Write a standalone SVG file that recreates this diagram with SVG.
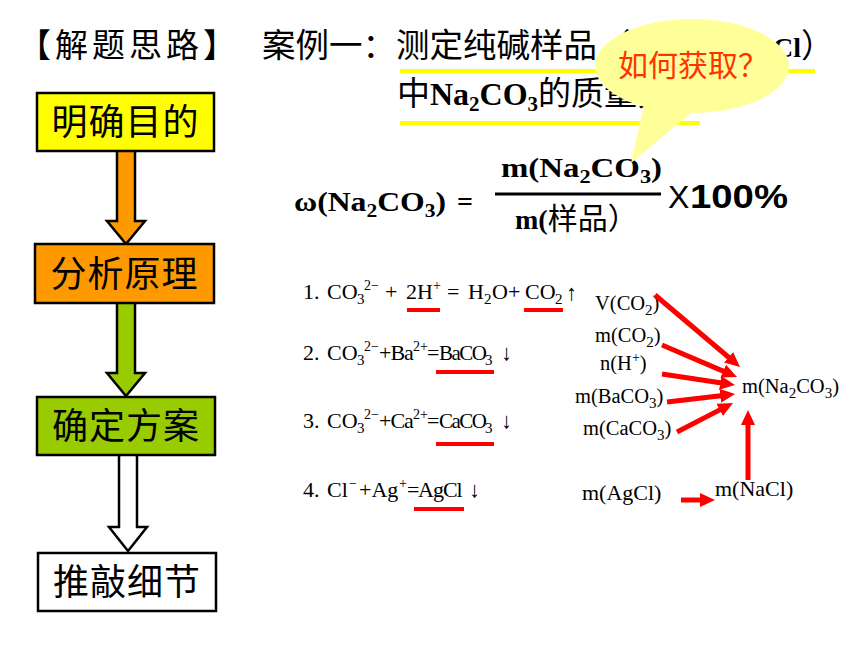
<svg xmlns="http://www.w3.org/2000/svg" width="860" height="645" viewBox="0 0 860 645">
<defs>
<style>
.cjk{font-family:"Noto Sans CJK SC","Noto Sans",sans-serif;fill:#000}
.box{stroke:#000;stroke-width:2.5}
.blk{stroke:#000;stroke-width:2.5;stroke-linejoin:miter}
.btxt{font-family:"Noto Sans CJK SC",sans-serif;font-size:36px;text-anchor:middle;fill:#000;letter-spacing:1px}
.eq{font-family:"Liberation Serif","DejaVu Serif","Noto Sans CJK SC",serif;font-size:22px;fill:#000}
.lb{font-family:"Liberation Serif","DejaVu Serif",serif;font-size:20.5px;fill:#000}
.sub{font-size:15px}
.sup{font-size:14px}
.nar{font-size:21px;letter-spacing:-1.5px}
.fx{font-family:"Liberation Serif","Noto Sans CJK SC",serif;font-weight:bold;font-size:28px;fill:#000}
.fsub{font-size:19px}
.ul{stroke:#FF0000;stroke-width:4}
.yl{stroke:#FFFF00;stroke-width:4}
.ra{stroke:#FF0000;stroke-width:5;fill:none;marker-end:url(#rh)}
</style>
<marker id="rh" markerUnits="userSpaceOnUse" markerWidth="15" markerHeight="14" refX="5" refY="7" orient="auto"><path d="M0,0 L15,7 L0,14 z" fill="#FF0000"/></marker>
</defs>
<rect width="860" height="645" fill="#FFFFFF"/>

<g id="title">
<text class="cjk" x="18" y="57" font-size="33" letter-spacing="4">【解题思路】</text>
<text class="cjk" x="262" y="57" font-size="33.5">案例一：测定纯碱样品（</text>
<text x="773" y="57" font-family="Liberation Serif,serif" font-weight="bold" font-size="28">Cl<tspan class="cjk" font-weight="normal" font-size="33">）</tspan></text>
<text class="cjk" x="397" y="105" font-size="33">中<tspan font-family="Liberation Serif,serif" font-weight="bold" font-size="32">Na<tspan font-size="21" dy="6">2</tspan><tspan dy="-6">CO</tspan><tspan font-size="21" dy="6">3</tspan></tspan><tspan dy="-6">的质量分数</tspan></text>
<line class="yl" x1="400" y1="71" x2="815" y2="71"/>
<line class="yl" x1="400" y1="123" x2="700" y2="123"/>
</g>

<g id="formula">
<text class="fx" x="294" y="211" textLength="152" lengthAdjust="spacingAndGlyphs">ω(Na<tspan class="fsub" dy="6">2</tspan><tspan dy="-6">CO</tspan><tspan class="fsub" dy="6">3</tspan><tspan dy="-6">)</tspan></text>
<text class="fx" x="457" y="211">=</text>
<text class="fx" x="501" y="177" textLength="161" lengthAdjust="spacingAndGlyphs">m(Na<tspan class="fsub" dy="6">2</tspan><tspan dy="-6">CO</tspan><tspan class="fsub" dy="6">3</tspan><tspan dy="-6">)</tspan></text>
<line x1="495" y1="194" x2="661" y2="194" stroke="#000" stroke-width="3"/>
<text class="fx" x="515" y="229">m(<tspan font-family="Noto Sans CJK SC,sans-serif" font-weight="normal" font-size="30">样品）</tspan></text>
<text x="668" y="208" font-family="Liberation Sans,sans-serif" font-size="32">X</text>
<text x="690" y="208" font-family="Liberation Sans,sans-serif" font-weight="bold" font-size="34" textLength="98" lengthAdjust="spacingAndGlyphs">100%</text>
</g>

<g id="bubble">
<ellipse cx="692" cy="66" rx="97" ry="47" fill="#FFFF99"/>
<polygon points="645,100 702,104 631,163" fill="#FFFF99"/>
<text x="618" y="76" font-family="Noto Sans CJK SC,sans-serif" font-size="30" fill="#FF3300">如何获取？</text>
</g>

<g id="equations">
<text class="eq" y="299"><tspan x="303">1. </tspan><tspan x="327">CO</tspan><tspan class="sub" x="357" y="304">3</tspan><tspan class="sup" x="364" y="290">2− </tspan><tspan x="385" y="299">+ </tspan><tspan x="406">2H</tspan><tspan class="sup" x="433" y="290">+ </tspan><tspan x="447" y="299">= </tspan><tspan x="468">H</tspan><tspan class="sub" x="484" y="304">2</tspan><tspan x="492" y="299">O+ </tspan><tspan x="525">CO</tspan><tspan class="sub" x="555" y="304">2</tspan><tspan x="566" y="300">↑</tspan></text>
<text class="eq" y="360"><tspan x="303">2. </tspan><tspan x="327">CO</tspan><tspan class="sub" x="357" y="365">3</tspan><tspan class="sup" x="364" y="351">2−</tspan><tspan x="379" y="360" letter-spacing="-1">+Ba</tspan><tspan class="sup" x="413" y="351">2+</tspan><tspan x="427" y="360">=</tspan><tspan class="nar" x="439">BaCO</tspan><tspan class="sub" x="485" y="365">3</tspan><tspan x="501" y="360">↓</tspan></text>
<text class="eq" y="428"><tspan x="303">3. </tspan><tspan x="327">CO</tspan><tspan class="sub" x="357" y="433">3</tspan><tspan class="sup" x="364" y="419">2−</tspan><tspan x="379" y="428" letter-spacing="-1">+Ca</tspan><tspan class="sup" x="413" y="419">2+</tspan><tspan x="427" y="428">=</tspan><tspan class="nar" x="439">CaCO</tspan><tspan class="sub" x="485" y="433">3</tspan><tspan x="501" y="428">↓</tspan></text>
<text class="eq" y="497"><tspan x="303">4. </tspan><tspan x="327">Cl</tspan><tspan class="sup" x="349" y="488">−</tspan><tspan x="359" y="497">+Ag</tspan><tspan class="sup" x="399" y="488">+</tspan><tspan x="407" y="497">=</tspan><tspan x="418" letter-spacing="-1">AgCl</tspan><tspan x="469">↓</tspan></text>
<line class="ul" x1="407" y1="310" x2="440" y2="310"/>
<line class="ul" x1="524" y1="310" x2="563" y2="310"/>
<line class="ul" x1="436" y1="372" x2="494" y2="372"/>
<line class="ul" x1="436" y1="444" x2="494" y2="444"/>
<line class="ul" x1="414" y1="509" x2="464" y2="509"/>
</g>

<g id="n-vco2"><text class="lb" x="595" y="310">V(CO<tspan class="sub" dy="5">2</tspan><tspan dy="-5">)</tspan></text></g>
<g id="n-mco2"><text class="lb" x="595" y="342">m(CO<tspan class="sub" dy="5">2</tspan><tspan dy="-5">)</tspan></text></g>
<g id="n-nh"><text class="lb" x="600" y="370">n(H<tspan class="sup" dy="-8">+</tspan><tspan dy="8">)</tspan></text></g>
<g id="n-mbaco3"><text class="lb" x="575" y="403">m(BaCO<tspan class="sub" dy="5">3</tspan><tspan dy="-5">)</tspan></text></g>
<g id="n-mcaco3"><text class="lb" x="583" y="435">m(CaCO<tspan class="sub" dy="5">3</tspan><tspan dy="-5">)</tspan></text></g>
<g id="n-mna2co3"><text class="lb" x="742" y="393">m(Na<tspan class="sub" dy="5">2</tspan><tspan dy="-5">CO</tspan><tspan class="sub" dy="5">3</tspan><tspan dy="-5">)</tspan></text></g>
<g id="n-magcl"><text class="eq" x="582" y="500">m(AgCl)</text></g>
<g id="n-mnacl"><text class="eq" x="715" y="496">m(NaCl)</text></g>

<g id="connectors">
<polygon class="blk" fill="#FF9900" points="117,150 135,150 135,221 145,221 126,244 107,221 117,221"/>
<polygon class="blk" fill="#99CC00" points="117,302 135,302 135,373 145,373 126,396 107,373 117,373"/>
<polygon class="blk" fill="#FFFFFF" points="119,454 137,454 137,527 147,527 128,551 109,527 119,527"/>
<line class="ra" x1="655" y1="295" x2="732.4" y2="360.5"/>
<line class="ra" x1="662" y1="345" x2="727.8" y2="373.1"/>
<line class="ra" x1="662" y1="374" x2="725.1" y2="383.5"/>
<line class="ra" x1="667" y1="402" x2="725.1" y2="395.2"/>
<line class="ra" x1="677" y1="432" x2="724.1" y2="407.6"/>
<line class="ra" x1="748" y1="480" x2="748" y2="420"/>
<line class="ra" x1="681" y1="500" x2="705" y2="500"/>
</g>

<g id="n-mingque"><rect class="box" x="37" y="93" width="177" height="58" fill="#FFFF00"/><text class="btxt" x="125.5" y="135">明确目的</text></g>
<g id="n-fenxi"><rect class="box" x="35" y="244" width="179" height="59" fill="#FF9900"/><text class="btxt" x="124.5" y="287">分析原理</text></g>
<g id="n-queding"><rect class="box" x="37" y="397" width="178" height="58" fill="#99CC00"/><text class="btxt" x="126" y="439">确定方案</text></g>
<g id="n-tuiqiao"><rect class="box" x="38" y="553" width="178" height="58" fill="#FFFFFF"/><text class="btxt" x="127" y="595">推敲细节</text></g>
</svg>
